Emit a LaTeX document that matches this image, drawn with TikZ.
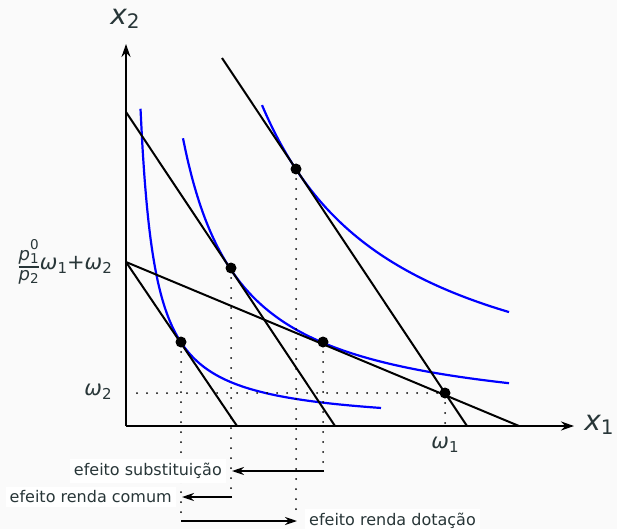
\documentclass[tikz,border=0pt]{standalone}
\usepackage{fontspec}
\setmainfont{DejaVu Sans}
\usetikzlibrary{arrows.meta}
\definecolor{txt}{RGB}{40,54,56}
\definecolor{bgc}{RGB}{250,250,250}
\newcommand\myfs[1]{\fontsize{#1}{#1}\selectfont}
\newcommand\obl[1]{{\itshape #1}}
\begin{document}
\begin{tikzpicture}[x=1pt,y=-1pt,
  axis/.style={line width=2.8pt,-{Stealth[length=13pt,width=9pt]}},
  budget/.style={line width=2pt, black},
  ic/.style={line width=2.2pt, blue},
  guide/.style={line width=2pt, line cap=round, dash pattern=on 0pt off 10pt},
  effarrow/.style={line width=2pt,-{Stealth[length=12pt,width=8pt]}},
  dotpt/.style={circle, fill=black, inner sep=0pt, minimum size=11pt},
  lab/.style={text=txt, inner sep=1pt},
  efflab/.style={text=txt, fill=white, inner sep=4pt, font=\myfs{16}}]
\fill[bgc] (0,0) rectangle (617,529);
\useasboundingbox (0,0) rectangle (617,529);
% coordinates
\coordinate (O) at (126,426);
\coordinate (Xend) at (574,426);
\coordinate (Yend) at (126,44);
\coordinate (A0) at (126,262);
\coordinate (A1) at (519,426);
\coordinate (B1) at (237,426);
\coordinate (C0) at (126,112);
\coordinate (C1) at (335,426);
\coordinate (D0) at (222,58);
\coordinate (D1) at (467,426);
% indifference curves
\draw[ic] plot[domain=14.5:255, samples=120, smooth] ({126+\x},{426-(46.0/\x)*100});
\draw[ic] plot[domain=57:383, samples=120, smooth] ({126+\x},{426-(164.0/\x)*100});
\draw[ic] plot[domain=136:383, samples=120, smooth] ({126+\x},{426-(436.4/\x)*100});
% budget lines
\draw[budget] (A0) -- (A1);
\draw[budget] (A0) -- (B1);
\draw[budget] (C0) -- (C1);
\draw[budget] (D0) -- (D1);
% points
\node[dotpt] (E) at (445,393) {};
\node[dotpt] (P1) at (181,342) {};
\node[dotpt] (P2) at (231,268) {};
\node[dotpt] (P3) at (323,342) {};
\node[dotpt] (P4) at (296,169) {};
% guides
\coordinate (w2s) at (137,393);
\coordinate (w1s) at (445,426);
\coordinate (g1) at (181,513);
\coordinate (g2) at (231,490);
\coordinate (g3) at (323,466);
\coordinate (g4) at (296,516);
\draw[guide] (w2s) -- (E.center);
\draw[guide] (E.center) -- (w1s);
\draw[guide] (P1.center) -- (g1);
\draw[guide] (P2.center) -- (g2);
\draw[guide] (P3.center) -- (g3);
\draw[guide] (P4.center) -- (g4);
% axes
\draw[axis] (O) -- (Xend);
\draw[axis] (O) -- (Yend);
% axis labels
\node[lab] (lx2) at (125,19) {\myfs{28}\obl{x}\raisebox{-4pt}{\myfs{20}2}};
\node[lab] (lx1) at (599,425) {\myfs{28}\obl{x}\raisebox{-4pt}{\myfs{20}1}};
\node[lab] (lw2) at (98,392) {\myfs{21}\obl{ω}\raisebox{-4pt}{\myfs{15}2}};
\node[lab] (lw1) at (445,445) {\myfs{21}\obl{ω}\raisebox{-4pt}{\myfs{15}1}};
\node[lab, anchor=east] (lint) at (113,262) {\myfs{18}\raisebox{3pt}{$\vcenter{\hbox{${\hbox{\obl{p}\rlap{\raisebox{10.5pt}{\myfs{13.5}0}}\raisebox{-3pt}{\myfs{13.5}1}}\above 2pt \hbox{\obl{p}\raisebox{-3pt}{\myfs{13.5}2}}}$}}$}\myfs{21}\obl{ω}\raisebox{-4pt}{\myfs{15}1}+\obl{ω}\raisebox{-4pt}{\myfs{15}2}};
% effect arrows
\coordinate (S0) at (324,471);
\coordinate (S1) at (232,471);
\coordinate (R0) at (232,497);
\coordinate (R1) at (182,497);
\coordinate (T0) at (181,521);
\coordinate (T1) at (297,521);
\draw[effarrow] (S0) -- (S1);
\draw[effarrow] (R0) -- (R1);
\draw[effarrow] (T0) -- (T1);
\node[efflab, anchor=east] (ls) at (226,471) {efeito substituição};
\node[efflab, anchor=east] (lr) at (176,497) {efeito renda comum};
\node[efflab, anchor=west] (ld) at (305,521) {efeito renda dotação};
\end{tikzpicture}
\end{document}
